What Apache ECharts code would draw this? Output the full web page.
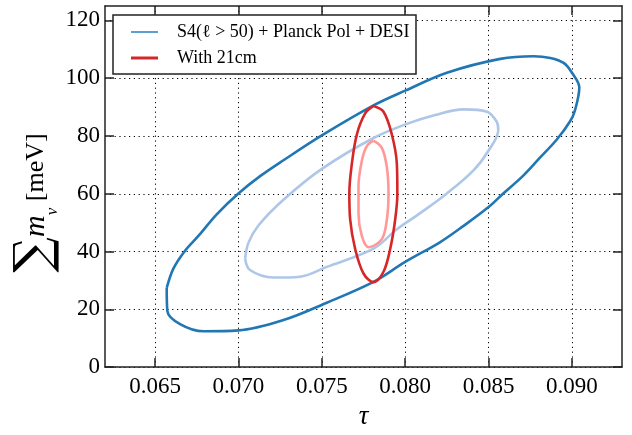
<!DOCTYPE html>
<html>
<head>
<meta charset="utf-8">
<script src="https://cdn.jsdelivr.net/npm/echarts@6/dist/echarts.min.js"></script>
<style>html,body{margin:0;padding:0;background:#fff}#c{width:632px;height:435px}</style>
</head>
<body>
<div id="c"></div>
<script>
// Contour points [tau, sum m_nu (meV)]
const s4Outer = [[0.0657,27.4],[0.0661,34.1],[0.0668,40.3],[0.0676,45.4],[0.0687,52.9],[0.07,60.1],[0.0713,66.1],[0.0727,71.6],[0.075,80.2],[0.0781,90.6],[0.08,95.7],[0.0825,101.9],[0.0857,106.7],[0.0877,107.6],[0.0887,107.0],[0.0895,105.3],[0.09,101.9],[0.09044,96.8],[0.09018,88.9],[0.08988,85.0],[0.08908,78.7],[0.08808,72.5],[0.08708,66.3],[0.08588,60.1],[0.08498,55.3],[0.08348,48.8],[0.08208,43.2],[0.08,36.4],[0.0781,29.5],[0.0753,22.3],[0.0727,16.3],[0.07,12.7],[0.0679,12.4],[0.0665,14.9],[0.06574,19.4],[0.0657,27.4]];
const s4Inner = [[0.0704,37.5],[0.0706,43.0],[0.0712,49.0],[0.0727,57.9],[0.075,68.6],[0.0781,79.3],[0.0801,84.2],[0.0818,87.3],[0.0835,89.2],[0.0849,88.4],[0.08548,85.0],[0.08558,82.1],[0.08498,74.8],[0.08408,68.0],[0.0825,60.1],[0.0809,53.3],[0.0795,47.7],[0.0781,41.0],[0.0753,34.7],[0.0737,31.3],[0.0721,31.0],[0.07069,33.6],[0.0704,37.5]];
const cm21Outer = [[0.0781,90.4],[0.0787,88.4],[0.0792,80.5],[0.0795,70.3],[0.07953,60.1],[0.0794,51.1],[0.0791,40.9],[0.0787,33.0],[0.0781,29.4],[0.0775,32.4],[0.077,40.9],[0.0767,51.1],[0.07665,60.1],[0.0768,70.3],[0.0771,80.5],[0.0776,87.8],[0.0781,90.4]];
const cm21Inner = [[0.0781,78.4],[0.0786,75.9],[0.0789,69.2],[0.079,60.1],[0.0789,51.1],[0.0786,44.3],[0.0778,41.5],[0.0774,45.4],[0.0772,53.3],[0.0772,62.4],[0.0774,71.4],[0.0777,76.5],[0.0781,78.4]];
const xTicks = [0.065, 0.070, 0.075, 0.080, 0.085, 0.090];
const yTicks = [0, 20, 40, 60, 80, 100, 120];
const legendNames = ['S4(ℓ > 50) + Planck Pol + DESI', 'With 21cm'];

const F = 'Liberation Serif';
const chart = echarts.init(document.getElementById('c'));
const axisCommon = {
  type: 'value',
  axisLine: {show: true, onZero: false, lineStyle: {color: '#222', width: 1.5}},
};
function tick(vals) {
  return {show: true, inside: true, length: 9, customValues: vals, lineStyle: {color: '#222', width: 1.5}};
}
function line(name, data, color) {
  return {type: 'line', name: name, data: data, showSymbol: false, symbol: 'none', smooth: 0.35,
    lineStyle: {color: color, width: 2.6}, itemStyle: {color: color}, z: 3, silent: true, animation: false};
}
const gridLine = {show: true, lineStyle: {color: '#000', width: 1, type: [1.2, 3.6]}};
chart.setOption({
  animation: false,
  grid: {left: 105, right: 10, top: 6, bottom: 61},
  xAxis: [
    Object.assign({}, axisCommon, {min: 0.062, max: 0.093, position: 'bottom',
      axisTick: tick(xTicks),
      axisLabel: {color: '#000', fontFamily: F, fontSize: 23, margin: 8, customValues: xTicks, formatter: v => v.toFixed(3)},
      splitLine: gridLine,
      name: 'τ', nameLocation: 'middle', nameGap: 33,
      nameTextStyle: {fontFamily: F, fontSize: 27, fontStyle: 'italic', color: '#000'}}),
    Object.assign({}, axisCommon, {min: 0.062, max: 0.093, position: 'top',
      axisTick: tick(xTicks), axisLabel: {show: false}, splitLine: {show: false}})
  ],
  yAxis: [
    Object.assign({}, axisCommon, {min: 0, max: 125, position: 'left',
      axisTick: tick(yTicks),
      axisLabel: {color: '#000', fontFamily: F, fontSize: 23, margin: 5, customValues: yTicks},
      splitLine: gridLine}),
    Object.assign({}, axisCommon, {min: 0, max: 125, position: 'right',
      axisTick: tick(yTicks), axisLabel: {show: false}, splitLine: {show: false}})
  ],
  legend: [
    {data: [{name: legendNames[0], icon: 'rect', itemStyle: {color: '#5c9fd3'}}], left: 126, top: 18,
      itemWidth: 27, itemHeight: 2, selectedMode: false, z: 110,
      textStyle: {fontFamily: F, fontSize: 18, color: '#000', padding: [0, 0, 0, 14]}},
    {data: [{name: legendNames[1], icon: 'rect', itemStyle: {color: '#d62728'}}], left: 126, top: 44,
      itemWidth: 27, itemHeight: 3, selectedMode: false, z: 110,
      textStyle: {fontFamily: F, fontSize: 18, color: '#000', padding: [0, 0, 0, 14]}}
  ],
  graphic: [
    {type: 'rect', z: 100, shape: {x: 113, y: 15, width: 303, height: 59},
      style: {fill: '#fff', stroke: '#222', lineWidth: 1.5}},
    {type: 'text', z: 100, x: 36, y: 203, rotation: Math.PI / 2,
      style: {text: '{s|∑}{m|m}{sub|ν}{u| [meV]}', align: 'center', verticalAlign: 'middle', fill: '#000',
        rich: {
          s: {fontFamily: 'DejaVu Serif', fontSize: 50, fill: '#000'},
          m: {fontFamily: F, fontSize: 30, fontStyle: 'italic', fill: '#000'},
          sub: {fontFamily: F, fontSize: 17, fontStyle: 'italic', fill: '#000', verticalAlign: 'bottom'},
          u: {fontFamily: F, fontSize: 26, fill: '#000'}
        }}}
  ],
  series: [
    line(legendNames[0], s4Outer, '#2077b4'),
    line('s4inner', s4Inner, '#aec7e8'),
    line(legendNames[1], cm21Outer, '#d62728'),
    line('cm21inner', cm21Inner, '#ff9896')
  ]
});
</script>
</body>
</html>
